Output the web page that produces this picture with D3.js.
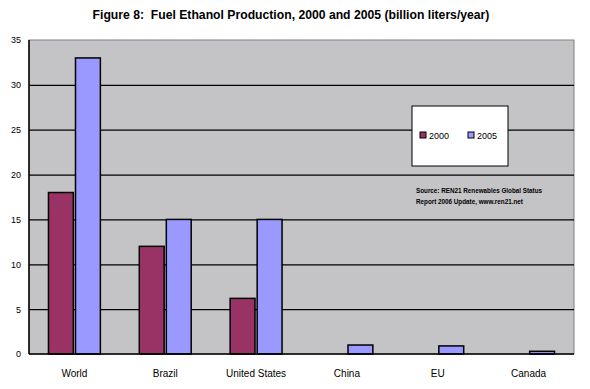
<!DOCTYPE html>
<html><head><meta charset="utf-8">
<script src="https://cdn.jsdelivr.net/npm/d3@7"></script>
<style>body{margin:0;background:#fff}svg{display:block}</style>
</head><body>
<script>
const categories = ["World","Brazil","United States","China","EU","Canada"];
const seriesNames = ["2000","2005"];
const values2000 = [18, 12, 6.2, 0, 0, 0];
const values2005 = [33, 15, 15, 1.0, 0.9, 0.3];
const yTicks = [0,5,10,15,20,25,30,35];
const colors = ["#993366","#9999FF"];

const W=590,H=389;
const svg=d3.select("body").append("svg").attr("width",W).attr("height",H);
const m={l:29,r:574,t:40,b:354};
const x=d3.scaleBand().domain(categories).range([m.l,m.r]).paddingInner(0).paddingOuter(0);
const xs=d3.scaleBand().domain(seriesNames).range([0,x.bandwidth()]).paddingInner(0.08).paddingOuter(0.72);
const y=d3.scaleLinear().domain([0,35]).range([m.b,m.t]);

svg.append("text").attr("x",291).attr("y",19).attr("text-anchor","middle")
 .attr("font-family","Liberation Sans, Arial").attr("font-weight","bold").attr("font-size",12.2)
 .text("Figure 8:\u00a0 Fuel Ethanol Production, 2000 and 2005 (billion liters/year)");

svg.append("rect").attr("x",m.l).attr("y",m.t).attr("width",m.r-m.l).attr("height",m.b-m.t)
 .attr("fill","#C4C3C6").attr("stroke","#808080").attr("stroke-width",1);

const ya=svg.append("g").attr("transform",`translate(${m.l},0)`)
 .call(d3.axisLeft(y).tickValues(yTicks).tickSize(-(m.r-m.l)).tickSizeOuter(0).tickPadding(8));
ya.select(".domain").remove();
ya.selectAll(".tick line").attr("stroke","#000").attr("stroke-width",1.3)
 .filter(d=>d===35||d===0).attr("stroke","none");
ya.selectAll(".tick text").attr("font-family","Liberation Sans, Arial").attr("font-size",9).attr("fill","#000");

const data=categories.map((c,i)=>({c,vals:[values2000[i],values2005[i]]}));
const g=svg.append("g").selectAll("g").data(data).join("g").attr("transform",d=>`translate(${x(d.c)},0)`);
g.selectAll("rect").data(d=>d.vals.map((v,j)=>({v,j}))).join("rect")
 .filter(d=>d.v>0)
 .attr("x",d=>xs(seriesNames[d.j])).attr("width",xs.bandwidth())
 .attr("y",d=>y(d.v)).attr("height",d=>y(0)-y(d.v))
 .attr("fill",d=>colors[d.j]).attr("stroke","#000").attr("stroke-width",1.5);

svg.append("line").attr("x1",m.l).attr("x2",m.l).attr("y1",m.t).attr("y2",m.b).attr("stroke","#000").attr("stroke-width",1.5);
svg.append("line").attr("x1",m.l).attr("x2",m.r).attr("y1",m.b).attr("y2",m.b).attr("stroke","#000").attr("stroke-width",1.5);

const xa=svg.append("g").attr("transform",`translate(0,${m.b})`).call(d3.axisBottom(x).tickSize(0).tickPadding(16));
xa.select(".domain").remove();
xa.selectAll("text").attr("font-family","Liberation Sans, Arial").attr("font-size",10).attr("fill","#000");

const lg=svg.append("g");
lg.append("rect").attr("x",412).attr("y",106).attr("width",96).attr("height",60).attr("fill","#fff").attr("stroke","#000").attr("stroke-width",1);
seriesNames.forEach((s,i)=>{
  const lx=420+i*48;
  lg.append("rect").attr("x",lx).attr("y",132).attr("width",6).attr("height",6).attr("fill",colors[i]).attr("stroke","#000").attr("stroke-width",1);
  lg.append("text").attr("x",lx+9).attr("y",139).attr("font-family","Liberation Sans, Arial").attr("font-size",9).text(s);
});

svg.append("text").attr("x",416).attr("y",193).attr("font-family","Liberation Sans, Arial").attr("font-weight","bold").attr("font-size",6.3)
 .text("Source: REN21 Renewables Global Status");
svg.append("text").attr("x",416).attr("y",204).attr("font-family","Liberation Sans, Arial").attr("font-weight","bold").attr("font-size",6.3)
 .text("Report 2006 Update, www.ren21.net");
</script>
</body></html>
